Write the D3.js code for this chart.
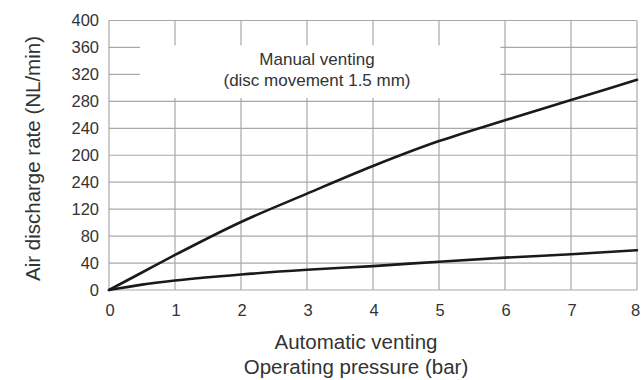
<!DOCTYPE html>
<html><head><meta charset="utf-8">
<script src="https://cdn.jsdelivr.net/npm/d3@7"></script>
<style>body{margin:0;background:#fff}svg{display:block}text{font-family:"Liberation Sans",Arial,sans-serif;fill:#333}</style>
</head><body><svg id="c" width="641" height="380"></svg>
<script>
const pressure = [0, 0.5, 1, 2, 3, 4, 5, 6, 7, 8];
const manualVenting = [0, 26, 52, 101, 143, 184, 221, 252, 282, 312];
const automaticVenting = [0, 8, 14, 23, 30, 35.5, 42, 48, 53, 59];
const xTicks = [0, 1, 2, 3, 4, 5, 6, 7, 8];
const yTicks = [0, 40, 80, 120, 160, 200, 240, 280, 320, 360, 400];
const yTickLabels = ["0", "40", "80", "120", "240", "200", "240", "280", "320", "360", "400"];
const annotation = ["Manual venting", "(disc movement 1.5 mm)"];
const xTitle = ["Automatic venting", "Operating pressure (bar)"];
const yTitle = "Air discharge rate (NL/min)";

const svg = d3.select("#c");
const m = {l:109, r:4, t:20.5, b:90};
const W = 641, H = 380;
const x = d3.scaleLinear().domain([0, 8]).range([m.l, W - m.r]);
const y = d3.scaleLinear().domain([0, 400]).range([H - m.b, m.t]);
const grid = "#a8a8a8";

// grid
svg.append("g").selectAll("line").data(xTicks).join("line")
  .attr("x1", d => x(d)).attr("x2", d => x(d)).attr("y1", y(0)).attr("y2", y(400))
  .attr("stroke", grid).attr("stroke-width", 1.2);
svg.append("g").selectAll("line").data(yTicks).join("line")
  .attr("x1", x(0)).attr("x2", x(8)).attr("y1", d => y(d)).attr("y2", d => y(d))
  .attr("stroke", grid).attr("stroke-width", 1.2);

// white annotation box
svg.append("rect")
  .attr("x", x(0.47)).attr("y", y(363))
  .attr("width", x(5.93) - x(0.47)).attr("height", y(285) - y(363))
  .attr("fill", "#fff");
svg.append("text").attr("x", 317).attr("y", 65).attr("text-anchor", "middle")
  .attr("font-size", 17).text(annotation[0]);
svg.append("text").attr("x", 317).attr("y", 86).attr("text-anchor", "middle")
  .attr("font-size", 17).text(annotation[1]);

// axes labels
svg.append("g").selectAll("text").data(yTicks).join("text")
  .attr("x", x(0) - 10).attr("y", d => y(d) + 5.5).attr("text-anchor", "end")
  .attr("font-size", 16.5).text((d, i) => yTickLabels[i]);
svg.append("g").selectAll("text").data(xTicks).join("text")
  .attr("x", d => Math.min(x(d) + 1, W - 5.5)).attr("y", y(0) + 25.5).attr("text-anchor", "middle")
  .attr("font-size", 16.5).text(d => d);

// curves
const line = d3.line().x((d, i) => x(pressure[i])).y(d => y(d)).curve(d3.curveMonotoneX);
[manualVenting, automaticVenting].forEach(s => {
  svg.append("path").attr("d", line(s)).attr("fill", "none")
    .attr("stroke", "#1a1a1a").attr("stroke-width", 2.6).attr("stroke-linecap", "round");
});

// titles
svg.append("text").attr("x", 356).attr("y", 349).attr("text-anchor", "middle")
  .attr("font-size", 20.5).text(xTitle[0]);
svg.append("text").attr("x", 356).attr("y", 374).attr("text-anchor", "middle")
  .attr("font-size", 20.5).text(xTitle[1]);
svg.append("text").attr("transform", "translate(40,158.5) rotate(-90)")
  .attr("text-anchor", "middle").attr("font-size", 20.5).text(yTitle);
</script></body></html>
